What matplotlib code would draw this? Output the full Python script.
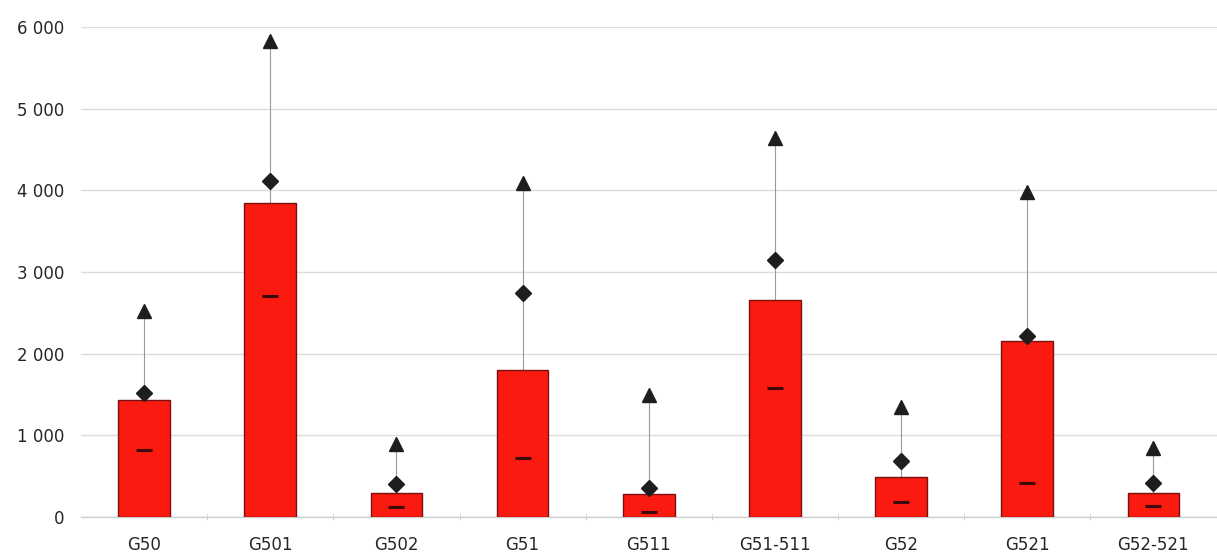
import matplotlib
matplotlib.use("Agg")
import matplotlib.pyplot as plt
from matplotlib.ticker import FuncFormatter, FixedLocator
import numpy as np

categories = ["G50", "G501", "G502", "G51", "G511", "G51-511", "G52", "G521", "G52-521"]
bar_values = [1430, 3850, 290, 1800, 285, 2660, 490, 2160, 294]
dash_values = [821, 2700, 123, 723, 60, 1580, 184, 417, 135]
diamond_values = [1515, 4110, 400, 2745, 355, 3150, 686, 2220, 416]
triangle_values = [2520, 5825, 890, 4090, 1495, 4645, 1350, 3985, 845]
y_ticks = [0, 1000, 2000, 3000, 4000, 5000, 6000]

fig = plt.figure(figsize=(12.17, 5.54), dpi=100)
ax = fig.add_axes([0.0666, 0.0668, 0.933, 0.8845])

x = np.arange(len(categories))

# thin grey range lines
ax.vlines(x, bar_values, triangle_values, color="#9a9a9a", lw=0.8, zorder=2)

ax.bar(x, bar_values, width=0.41, color="#fa1a10", edgecolor="#7a1010",
       linewidth=1.0, zorder=3)

ax.plot(x, dash_values, linestyle="none", marker="_", markersize=11,
        markeredgewidth=2.2, color="#3a0a0a", zorder=4)
ax.plot(x, diamond_values, linestyle="none", marker="D", markersize=8,
        color="#1e1e1e", zorder=5, clip_on=False)
ax.plot(x, triangle_values, linestyle="none", marker="^", markersize=9.5,
        color="#1e1e1e", zorder=5, clip_on=False)

ax.set_xlim(-0.5, len(categories) - 0.5)
ax.set_ylim(0, 6000)
ax.yaxis.set_major_locator(FixedLocator(y_ticks))
ax.yaxis.set_major_formatter(FuncFormatter(lambda v, p: f"{int(v):,}".replace(",", " ")))
ax.grid(axis="y", color="#dcdcdc", lw=1.0, zorder=0)
ax.set_axisbelow(True)

ax.set_xticks(x)
ax.set_xticklabels(categories)
ax.set_xticks(np.arange(0.5, len(categories) - 0.5, 1), minor=True)
ax.tick_params(axis="x", which="major", length=0, pad=14, labelsize=12, labelcolor="#262626")
ax.tick_params(axis="x", which="minor", length=4, direction="inout", color="#c8c8c8")
ax.tick_params(axis="y", length=0, pad=12, labelsize=12, labelcolor="#262626")

for s in ["top", "right", "left"]:
    ax.spines[s].set_visible(False)
ax.spines["bottom"].set_color("#cfcfcf")
ax.spines["bottom"].set_linewidth(1.0)

fig.savefig("out.png", dpi=100)
